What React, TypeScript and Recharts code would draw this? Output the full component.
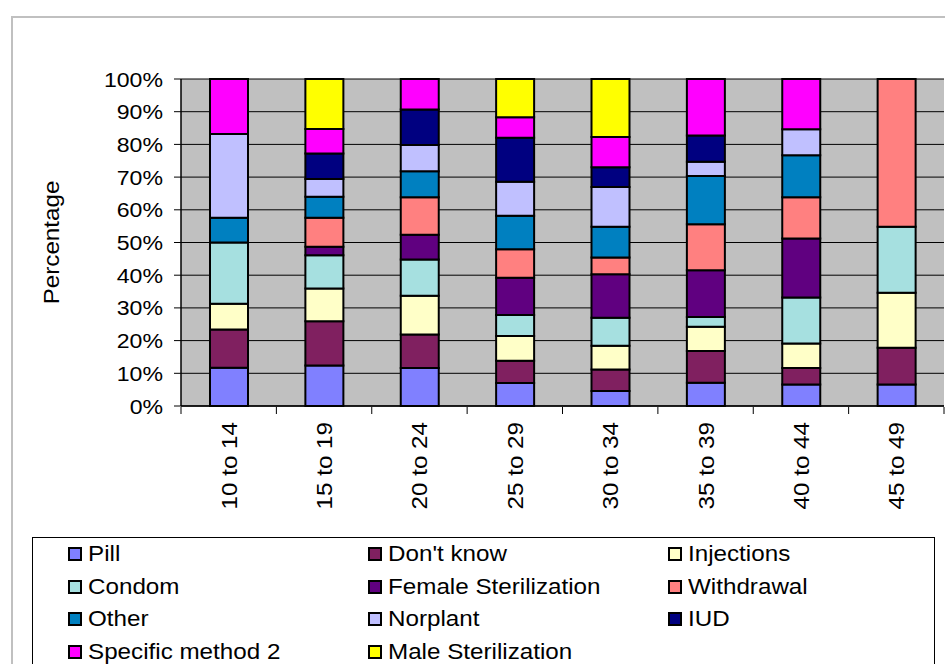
import { Bar, BarChart, CartesianGrid, Legend, XAxis, YAxis } from "recharts";

const ageGroups = ["10 to 14", "15 to 19", "20 to 24", "25 to 29", "30 to 34", "35 to 39", "40 to 44", "45 to 49"];

const pill = [11.7, 12.4, 11.6, 7.0, 4.6, 7.1, 6.6, 6.6];
const dontKnow = [11.7, 13.5, 10.3, 6.8, 6.6, 9.7, 5.0, 11.2];
const injections = [7.9, 10.0, 11.8, 7.6, 7.2, 7.4, 7.5, 16.8];
const condom = [18.7, 10.2, 11.1, 6.4, 8.6, 3.0, 14.1, 20.2];
const femaleSterilization = [0, 2.6, 7.6, 11.4, 13.3, 14.3, 18.0, 0];
const withdrawal = [0, 8.9, 11.4, 8.7, 5.1, 14.1, 12.6, 45.2];
const other = [7.6, 6.4, 8.0, 10.3, 9.4, 14.7, 12.9, 0];
const norplant = [25.6, 5.4, 8.0, 10.4, 12.2, 4.4, 7.9, 0];
const iud = [0, 7.8, 10.9, 13.4, 6.0, 8.0, 0, 0];
const specificMethod2 = [16.8, 7.5, 9.3, 6.3, 9.3, 17.3, 15.4, 0];
const maleSterilization = [0, 15.3, 0, 11.7, 17.7, 0, 0, 0];

const yTicks = [0, 0.1, 0.2, 0.3, 0.4, 0.5, 0.6, 0.7, 0.8, 0.9, 1];
const edgeTicks = [0, 1, 2, 3, 4, 5, 6, 7, 8];

const series = [
  { key: "pill", name: "Pill", values: pill, color: "#8080ff" },
  { key: "dontKnow", name: "Don't know", values: dontKnow, color: "#802060" },
  { key: "injections", name: "Injections", values: injections, color: "#ffffc8" },
  { key: "condom", name: "Condom", values: condom, color: "#a6e0e0" },
  { key: "female", name: "Female Sterilization", values: femaleSterilization, color: "#600080" },
  { key: "withdrawal", name: "Withdrawal", values: withdrawal, color: "#ff8080" },
  { key: "other", name: "Other", values: other, color: "#0080c0" },
  { key: "norplant", name: "Norplant", values: norplant, color: "#c0c0ff" },
  { key: "iud", name: "IUD", values: iud, color: "#000080" },
  { key: "specific", name: "Specific method 2", values: specificMethod2, color: "#ff00ff" },
  { key: "male", name: "Male Sterilization", values: maleSterilization, color: "#ffff00" }
];

const data = ageGroups.map((age, i) => {
  const row: Record<string, string | number> = { age, edge: i + 0.5 };
  series.forEach((s) => {
    row[s.key] = s.values[i];
  });
  return row;
});

const font = "Arial, 'Liberation Sans', sans-serif";

// excel text looks a bit wider than Liberation at the same height
function AgeTick(props: any) {
  const { x, y, payload } = props;
  return (
    <text
      transform={`translate(${x + 8} ${y + 14}) rotate(-90) scale(1.1 1)`}
      textAnchor="end"
      fontSize={22}
      fontFamily={font}
      fill="#000"
    >
      {payload.value}
    </text>
  );
}

function PctTick(props: any) {
  const { x, y, payload } = props;
  return (
    <text
      transform={`translate(${x} ${y}) scale(1.1 1)`}
      dy="0.36em"
      textAnchor="end"
      fontSize={21}
      fontFamily={font}
      fill="#000"
    >
      {`${Math.round(payload.value * 100)}%`}
    </text>
  );
}

function LegendBox() {
  return (
    <div
      style={{
        border: "1px solid #000",
        background: "#fff",
        height: 140,
        boxSizing: "border-box",
        paddingLeft: 35,
        display: "grid",
        gridTemplateColumns: "300px 300px 300px",
        gridAutoRows: "32.5px",
        fontFamily: font,
        fontSize: 22,
        color: "#000"
      }}
    >
      {series.map((s) => (
        <div key={s.key} style={{ display: "flex", alignItems: "center", whiteSpace: "nowrap" }}>
          <span
            style={{
              width: 10,
              height: 10,
              border: "2px solid #000",
              background: s.color,
              marginRight: 6,
              display: "inline-block",
              flex: "none"
            }}
          />
          <span style={{ display: "inline-block", transform: "scaleX(1.1)", transformOrigin: "left center" }}>{s.name}</span>
        </div>
      ))}
    </div>
  );
}

export default function App() {
  return (
    <div style={{ position: "absolute", left: 0, top: 0, width: 945, height: 664, overflow: "hidden", background: "#fff" }}>
      <div
        style={{
          position: "absolute",
          left: 11,
          top: 16,
          width: 960,
          height: 700,
          border: "2px solid #c0c0c0",
          boxSizing: "border-box"
        }}
      />
      <div style={{ position: "absolute", left: 0, top: 0 }}>
        <BarChart
          width={945}
          height={664}
          data={data}
          stackOffset="expand"
          barSize={38}
          margin={{ top: 79, right: 1, left: 0, bottom: 138 }}
        >
          <CartesianGrid vertical={false} stroke="#000" fill="#c0c0c0" fillOpacity={1} />
          <XAxis
            xAxisId="edges"
            dataKey="edge"
            type="number"
            domain={[0, 8]}
            allowDataOverflow
            ticks={edgeTicks}
            interval={0}
            tick={() => <g />}
            tickSize={7}
            tickLine={{ stroke: "#000", strokeWidth: 1 }}
            axisLine={false}
            height={119}
          />
          <XAxis
            dataKey="age"
            height={1}
            tickLine={false}
            tickSize={0}
            axisLine={{ stroke: "#000", strokeWidth: 1.5 }}
            interval={0}
            tick={<AgeTick />}
          />
          <YAxis
            width={181}
            ticks={yTicks}
            domain={[0, 1]}
            tickSize={7}
            tickMargin={11}
            tickLine={{ stroke: "#000" }}
            axisLine={{ stroke: "#000", strokeWidth: 1.5 }}
            tick={<PctTick />}
            label={{
              content: (p: any) => {
                const vb = p.viewBox || { x: 0, y: 79, height: 327 };
                const cx = vb.x + 59;
                const cy = vb.y + vb.height / 2;
                return (
                  <text
                    transform={`translate(${cx} ${cy}) rotate(-90) scale(1.1 1)`}
                    textAnchor="middle"
                    fontSize={22}
                    fontFamily={font}
                    fill="#000"
                  >
                    Percentage
                  </text>
                );
              }
            }}
          />
          {series.map((s) => (
            <Bar
              key={s.key}
              dataKey={s.key}
              name={s.name}
              stackId="a"
              fill={s.color}
              stroke="#000"
              strokeWidth={2}
              isAnimationActive={false}
            />
          ))}
          <Legend
            layout="horizontal"
            verticalAlign="middle"
            align="center"
            width={903}
            wrapperStyle={{ left: 32, top: 537, width: 903 }}
            content={() => <LegendBox />}
          />
        </BarChart>
      </div>
    </div>
  );
}
